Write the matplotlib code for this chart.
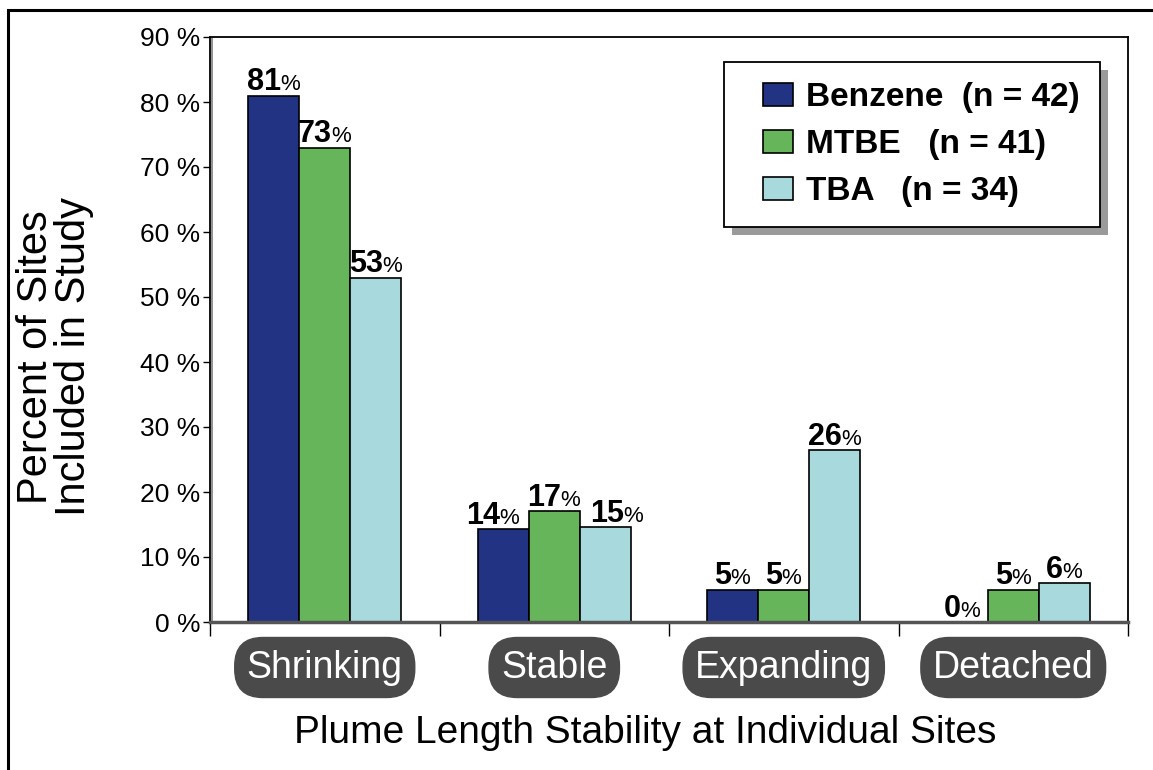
import numpy as np
import matplotlib.pyplot as plt
from matplotlib.patches import Rectangle
from matplotlib.container import BarContainer
from matplotlib.legend_handler import HandlerPatch
from matplotlib.transforms import offset_copy

plt.rcParams['font.family'] = ['Liberation Sans', 'DejaVu Sans']

categories = ['Shrinking', 'Stable', 'Expanding', 'Detached']
series = ['Benzene  (n = 42)', 'MTBE   (n = 41)', 'TBA   (n = 34)']
benzene = [81, 14.3, 5, 0]
mtbe = [73, 17.1, 5, 5]
tba = [53, 14.6, 26.5, 6]
benzene_lbl = ['81', '14', '5', '0']
mtbe_lbl = ['73', '17', '5', '5']
tba_lbl = ['53', '15', '26', '6']
colors = ['#233383', '#66b55b', '#a8d9dd']
yticks = np.arange(0, 100, 10)
# small sideways nudges (px) for the crowded "Stable" labels
nudge = [[0, -10, 0, 0], [0, 0, 0, 0], [0, 12, 0, 0]]

fig = plt.figure(figsize=(11.53, 7.70), dpi=100)
ax = fig.add_axes([210/1153, 1-622/770, 918/1153, 585/770])

x = np.arange(len(categories))
w = 0.222
vals = [benzene, mtbe, tba]
lbls = [benzene_lbl, mtbe_lbl, tba_lbl]
bars = []
for i in range(3):
    b = ax.bar(x + (i-1)*w, vals[i], w, color=colors[i], edgecolor='black',
               linewidth=1.2, label=series[i], zorder=3)
    bars.append(b)

ax.set_xlim(-0.5, 3.5)
ax.set_ylim(0, 90)
ax.set_yticks(yticks)
ax.set_yticklabels(['{} %'.format(v) for v in yticks], fontsize=19)
ax.set_xticks(np.arange(-0.5, 4, 1))
ax.set_xticklabels([])
ax.tick_params(axis='x', length=10, width=1, direction='out')
ax.tick_params(axis='y', length=5, width=1, direction='out', pad=2)
for s in ['top', 'right', 'left']:
    ax.spines[s].set_linewidth(1.3)
ax.spines['bottom'].set_color('#555555')
ax.spines['bottom'].set_linewidth(2.5)
ax.spines['bottom'].set_zorder(4)
ax.axvline(-0.5 + 0.008, color='#888888', lw=1.3, zorder=2)

# category labels in rounded boxes
for i, c in enumerate(categories):
    ax.text(x[i], -7.0, c, transform=ax.transData, ha='center', va='center',
            fontsize=27, color='white', clip_on=False,
            bbox=dict(boxstyle='round,pad=0.32,rounding_size=0.75',
                      fc='#4a4a4a', ec='#4a4a4a'))

fig.text(55/1153, 1-357/770, 'Percent of Sites\nIncluded in Study', fontsize=30,
         rotation=90, ha='center', va='center', linespacing=0.95)
fig.text(645/1153, 1-733/770, 'Plume Length Stability at Individual Sites',
         fontsize=28, ha='center', va='center')


def shifted_patch(legend, orig_handle, xdescent, ydescent, width, height, fontsize):
    extra = 14
    return Rectangle((-xdescent + extra, -ydescent), width - extra, height)


def first_child(legend_handle, orig_handle):
    legend_handle.update_from(orig_handle[0])


leg = ax.legend(loc='upper right', bbox_to_anchor=(0.9695, 0.957),
                prop={'weight': 'bold', 'size': 24}, frameon=True, fancybox=False,
                edgecolor='black', handlelength=1.47, handleheight=0.66,
                labelspacing=0.48, borderpad=0.6, handletextpad=0.4,
                borderaxespad=0, framealpha=1,
                handler_map={BarContainer: HandlerPatch(patch_func=shifted_patch,
                                                        update_func=first_child)})
leg.get_frame().set_linewidth(1.3)
leg.set_zorder(6)

fig.canvas.draw()
r = fig.canvas.get_renderer()

# value labels: bold number + small percent sign
for i in range(3):
    for j, rect in enumerate(bars[i]):
        cx = rect.get_x() + rect.get_width()/2
        top = rect.get_height()
        t1 = ax.text(cx, top, lbls[i][j], fontsize=22, fontweight='bold',
                     ha='left', va='bottom', zorder=4)
        t2 = ax.text(cx, top, '%', fontsize=16, ha='left', va='bottom', zorder=4)
        w1 = t1.get_window_extent(r).width
        w2 = t2.get_window_extent(r).width
        tot = w1 + w2
        dx = -tot/2 + nudge[i][j]
        t1.set_transform(offset_copy(ax.transData, fig, x=dx, y=-2, units='dots'))
        t2.set_transform(offset_copy(ax.transData, fig, x=dx + w1 - 1, y=0, units='dots'))

# legend shadow
bb = leg.get_window_extent(r)
ax.add_patch(Rectangle((bb.x0 + 8, bb.y0 - 8), bb.width, bb.height,
                       transform=None, fc='#9a9a9a', ec='none', zorder=5,
                       clip_on=False))

# outer frame
fig.patches.append(Rectangle((8/1153, -0.05), 1.1, 1 - 10/770 + 0.05,
                             transform=fig.transFigure, fill=False,
                             ec='black', lw=2.2, zorder=0))

fig.savefig('out.png', dpi=100)
